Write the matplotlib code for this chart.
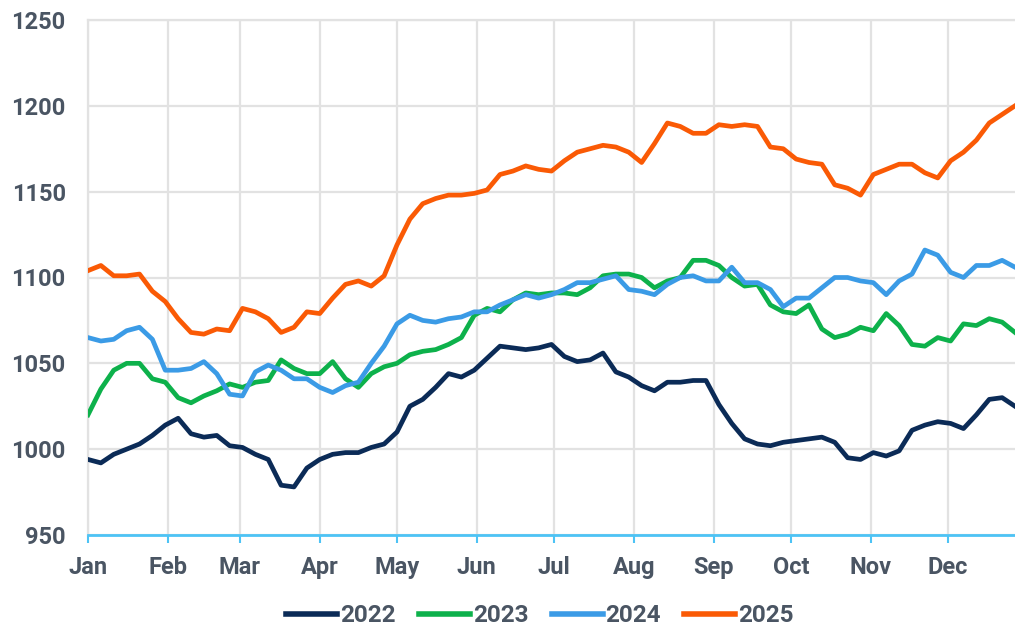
import matplotlib
matplotlib.use("Agg")
import matplotlib.pyplot as plt
import numpy as np

days = list(range(0, 361, 5))

y2022 = [994, 992, 997, 1000, 1003, 1008, 1014, 1018, 1009, 1007, 1008, 1002, 1001, 997, 994,
         979, 978, 989, 994, 997, 998, 998, 1001, 1003, 1010, 1025, 1029, 1036, 1044, 1042,
         1046, 1053, 1060, 1059, 1058, 1059, 1061, 1054, 1051, 1052, 1056, 1045, 1042, 1037,
         1034, 1039, 1039, 1040, 1040, 1026, 1015, 1006, 1003, 1002, 1004, 1005, 1006, 1007,
         1004, 995, 994, 998, 996, 999, 1011, 1014, 1016, 1015, 1012, 1020, 1029, 1030, 1025]

y2023 = [1020, 1035, 1046, 1050, 1050, 1041, 1039, 1030, 1027, 1031, 1034, 1038, 1036, 1039,
         1040, 1052, 1047, 1044, 1044, 1051, 1041, 1036, 1044, 1048, 1050, 1055, 1057, 1058,
         1061, 1065, 1078, 1082, 1080, 1087, 1091, 1090, 1091, 1091, 1090, 1094, 1101, 1102,
         1102, 1100, 1094, 1098, 1100, 1110, 1110, 1107, 1100, 1095, 1096, 1084, 1080, 1079,
         1084, 1070, 1065, 1067, 1071, 1069, 1079, 1072, 1061, 1060, 1065, 1063, 1073, 1072,
         1076, 1074, 1068]

y2024 = [1065, 1063, 1064, 1069, 1071, 1064, 1046, 1046, 1047, 1051, 1044, 1032, 1031, 1045,
         1049, 1046, 1041, 1041, 1036, 1033, 1037, 1039, 1050, 1060, 1073, 1078, 1075, 1074,
         1076, 1077, 1080, 1080, 1084, 1087, 1090, 1088, 1090, 1093, 1097, 1097, 1099, 1101,
         1093, 1092, 1090, 1096, 1100, 1101, 1098, 1098, 1106, 1097, 1097, 1093, 1083, 1088,
         1088, 1094, 1100, 1100, 1098, 1097, 1090, 1098, 1102, 1116, 1113, 1103, 1100, 1107,
         1107, 1110, 1106]

y2025 = [1104, 1107, 1101, 1101, 1102, 1092, 1086, 1076, 1068, 1067, 1070, 1069, 1082, 1080,
         1076, 1068, 1071, 1080, 1079, 1088, 1096, 1098, 1095, 1101, 1119, 1134, 1143, 1146,
         1148, 1148, 1149, 1151, 1160, 1162, 1165, 1163, 1162, 1168, 1173, 1175, 1177, 1176,
         1173, 1167, 1178, 1190, 1188, 1184, 1184, 1189, 1188, 1189, 1188, 1176, 1175, 1169,
         1167, 1166, 1154, 1152, 1148, 1160, 1163, 1166, 1166, 1161, 1158, 1168, 1173, 1180,
         1190, 1195, 1200]

series_labels = ["2022", "2023", "2024", "2025"]
series_colors = ["#0b2b57", "#0db14b", "#3b9be6", "#fa5a05"]

month_labels = ["Jan", "Feb", "Mar", "Apr", "May", "Jun", "Jul", "Aug", "Sep", "Oct", "Nov", "Dec"]
month_starts = [0, 31, 59, 90, 120, 151, 181, 212, 243, 273, 304, 334]
y_ticks = [950, 1000, 1050, 1100, 1150, 1200, 1250]

plt.rcParams['font.family'] = ['Roboto', 'DejaVu Sans']

fig = plt.figure(figsize=(10.15, 6.29), dpi=100)
ax = fig.add_axes([88 / 1015, 1 - 535 / 629, 1 - 88 / 1015, (535 - 20) / 629])

grid_color = "#e2e2e2"
text_color = "#4a5563"
fs = 17

for vals, lab, col in zip([y2022, y2023, y2024, y2025], series_labels, series_colors):
    ax.plot(days, vals, color=col, lw=3.4, label=lab, solid_joinstyle="round", zorder=3)

ax.set_xlim(0, 360)
ax.set_ylim(950, 1250)
ax.set_xticks(month_starts)
ax.set_xticklabels(month_labels)
ax.set_yticks(y_ticks)
ax.grid(True, color=grid_color, lw=1.6, zorder=0)
ax.set_axisbelow(True)

ax.spines["right"].set_visible(False)
for s in ["left", "top"]:
    ax.spines[s].set_color(grid_color)
    ax.spines[s].set_linewidth(1.6)
ax.spines["bottom"].set_color("#4dc3f5")
ax.spines["bottom"].set_linewidth(2)
ax.spines["bottom"].set_zorder(4)

ax.tick_params(axis="x", colors="#4dc3f5", length=6, width=1.5, direction="out", pad=9,
               labelcolor=text_color, labelsize=fs)
ax.tick_params(axis="y", length=0, pad=16, labelcolor=text_color, labelsize=fs)
for t in ax.get_xticklabels() + ax.get_yticklabels():
    t.set_fontweight("bold")

leg = fig.legend(loc="center", bbox_to_anchor=(540 / 1015, 1 - 616 / 629), ncol=4, frameon=False,
                 handlelength=2.1, handletextpad=0.12, columnspacing=0.95,
                 prop={"size": fs + 0.5, "weight": "bold"})
for t in leg.get_texts():
    t.set_color(text_color)
for h in leg.get_lines():
    h.set_linewidth(4)

fig.savefig("out.png", dpi=100)
